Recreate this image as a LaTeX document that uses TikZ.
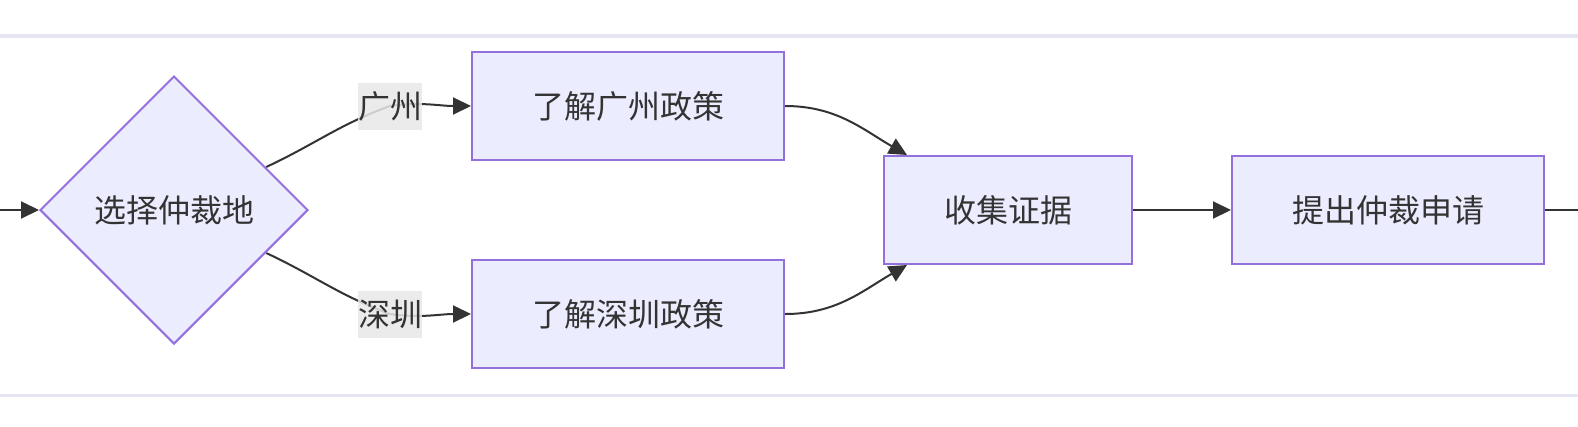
\documentclass[tikz,border=0pt]{standalone}
\usepackage{fontspec}
\setmainfont{Noto Sans CJK SC}
\usetikzlibrary{shapes.geometric, arrows.meta, positioning, backgrounds}
\definecolor{boxfill}{HTML}{ECECFF}
\definecolor{boxline}{HTML}{9370DB}
\definecolor{ink}{HTML}{333333}
\definecolor{bandline}{HTML}{E6E6F2}
\definecolor{labelfill}{HTML}{E8E8E8}
\tikzset{
    stepbox/.style={draw=boxline, fill=boxfill, line width=2pt, minimum height=108pt, inner sep=0pt, text=ink},
    choicebox/.style={diamond, aspect=1, draw=boxline, fill=boxfill, line width=2pt, minimum width=268pt, minimum height=268pt, inner sep=0pt, text=ink},
    edgelabel/.style={fill=labelfill, fill opacity=0.85, text opacity=1, text=ink, inner sep=0pt, minimum width=64pt, minimum height=47pt},
    flow/.style={draw=ink, line width=2pt, -{Triangle[length=18pt,width=17pt]}},
    band/.style={draw=bandline, line width=3.5pt}
}

\begin{document}
\begin{tikzpicture}[x=1pt, y=1pt, font=\fontsize{32pt}{40pt}\selectfont]
        \useasboundingbox (0,0) rectangle (1578,-426);
        \draw [band] (0,-36) -- (1578,-36);
        \draw [band] (0,-395.5) -- (1578,-395.5);

        \coordinate (Start) at (0,-210);
        \coordinate (End) at (1578,-210);
        \node (Choose)[choicebox] at (174,-210) {选择仲裁地};
        \node (GZ)[edgelabel] at (390,-106) {广州};
        \node (SZ)[edgelabel] at (390,-314) {深圳};
        \node (GZPolicy)[stepbox, minimum width=312pt] at (628,-106) {了解广州政策};
        \node (SZPolicy)[stepbox, minimum width=312pt] at (628,-314) {了解深圳政策};
        \node (Collect)[stepbox, minimum width=248pt] at (1008,-210) {收集证据};
        \node (Apply)[stepbox, minimum width=312pt] at (1388,-210) {提出仲裁申请};

        \draw [flow] (Start) -- (Choose);
        \begin{scope}[on background layer]
            \draw [flow] (Choose) to[out=25,in=200] (GZ.center) to[out=8,in=180] (GZPolicy);
            \draw [flow] (Choose) to[out=-25,in=160] (SZ.center) to[out=-8,in=180] (SZPolicy);
        \end{scope}
        \draw [flow] (GZPolicy) to[out=0,in=150] ([xshift=24pt]Collect.north west);
        \draw [flow] (SZPolicy) to[out=0,in=210] ([xshift=24pt]Collect.south west);
        \draw [flow] (Collect) -- (Apply);
        \draw [draw=ink, line width=2pt] (Apply) -- (End);
    \end{tikzpicture}
\end{document}
